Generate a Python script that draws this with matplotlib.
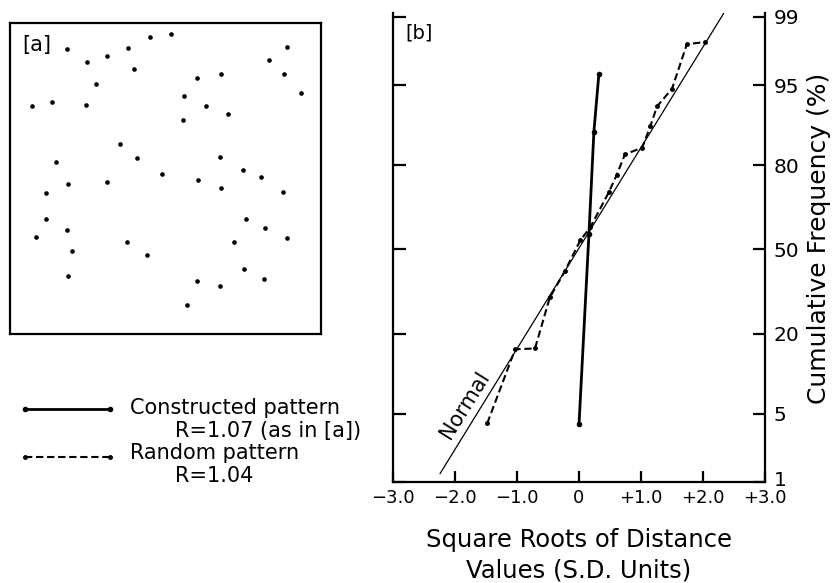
"""Point pattern (a) and nearest-neighbour probability plot (b)."""

from statistics import NormalDist

import matplotlib

matplotlib.use("Agg")
import matplotlib.pyplot as plt
from matplotlib.lines import Line2D
from matplotlib.transforms import ScaledTranslation


# panel (a): point positions inside the square study area (0-100 units)
POINT_X = [18.3, 45.0, 51.8, 37.9, 31.2, 24.8, 39.9, 27.7, 7.1, 13.5,
           24.4, 89.1, 83.3, 88.1, 93.6, 60.1, 67.8, 55.9, 63.0, 70.1,
           55.6, 35.4, 40.8, 14.8, 67.5, 74.9, 80.7, 48.9, 60.5, 67.8,
           18.6, 31.2, 11.6, 87.8, 11.6, 75.9, 18.3, 82.0, 8.4, 37.6,
           72.0, 89.1, 19.9, 44.1, 75.2, 81.7, 18.6, 60.1, 67.5, 56.9]
POINT_Y = [91.6, 95.5, 96.5, 92.0, 89.4, 87.5, 85.2, 80.4, 73.3, 74.6,
           73.6, 92.3, 88.1, 83.6, 77.5, 82.3, 83.6, 76.5, 73.3, 70.7,
           68.8, 61.1, 56.6, 55.3, 56.9, 52.7, 50.5, 51.4, 49.5, 46.9,
           48.2, 48.9, 45.3, 45.7, 37.0, 37.0, 33.4, 34.1, 31.2, 29.6,
           29.6, 30.9, 26.7, 25.4, 20.9, 17.7, 18.6, 17.0, 15.4, 9.3]

# panel (b): square roots of distance (S.D. units) vs cumulative frequency (%)
CONSTRUCTED_X = [0.0, 0.16, 0.24, 0.32]
CONSTRUCTED_PCT = [4.0, 56.0, 88.0, 96.0]

RANDOM_X = [-1.48, -1.03, -0.71, -0.47, -0.23, 0.02, 0.18, 0.48,
            0.61, 0.74, 1.02, 1.15, 1.26, 1.50, 1.74, 2.03]
RANDOM_PCT = [4.1, 15.9, 16.1, 31.6, 41.3, 53.6, 58.7, 71.6,
              77.3, 82.9, 84.6, 89.1, 92.4, 94.6, 98.0, 98.1]

NORMAL_X = [-2.24, 2.38]
NORMAL_PCT = [1.25, 99.2]

X_TICKS = [-3, -2, -1, 0, 1, 2, 3]
X_TICK_LABELS = ["\u22123.0", "\u22122.0", "\u22121.0", "0",
                 "+1.0", "+2.0", "+3.0"]
PCT_TICKS = [1, 5, 20, 50, 80, 95, 99]
PCT_TOP = 99.1

W, H = 837, 583


def fig_xy(x, y):
    """Pixel position (from top left) to figure fraction."""
    return x / W, 1 - y / H


def probit(values):
    dist = NormalDist()
    return [dist.inv_cdf(v / 100.0) for v in values]


def draw_pattern(fig):
    ax = fig.add_axes([10 / W, 1 - 334 / H, 311 / W, 311 / H])
    ax.scatter(POINT_X, POINT_Y, s=11, color="black", linewidths=0)
    ax.set_xlim(0, 100)
    ax.set_ylim(0, 100)
    ax.set_xticks([])
    ax.set_yticks([])
    for spine in ax.spines.values():
        spine.set_linewidth(1.6)
    ax.text(0.04, 0.93, "[a]", transform=ax.transAxes,
            fontsize=15, va="center", ha="left")


def draw_probability(fig):
    ax = fig.add_axes([393 / W, 101 / H, 372 / W, 469 / H])

    ax.plot(NORMAL_X, probit(NORMAL_PCT), color="black", linewidth=0.9)
    ax.plot(CONSTRUCTED_X, probit(CONSTRUCTED_PCT), color="black",
            linewidth=2.0, marker="o", markersize=3)
    ax.plot(RANDOM_X, probit(RANDOM_PCT), color="black", linewidth=1.5,
            linestyle=(0, (3.5, 1.8)), marker="o", markersize=2.5)

    ax.text(-1.84, -1.55, "Normal", rotation=58, fontsize=15,
            ha="center", va="center")

    ax.set_xlim(-3, 3)
    ax.set_ylim(probit([PCT_TICKS[0]])[0], probit([PCT_TOP])[0])

    ax.set_xticks(X_TICKS)
    ax.set_xticklabels(X_TICK_LABELS)
    ax.set_yticks(probit(PCT_TICKS))
    ax.set_yticklabels([str(p) for p in PCT_TICKS])

    ax.tick_params(axis="x", direction="in", length=8, width=1.6,
                   labelsize=13, pad=5)
    ax.tick_params(axis="y", direction="in", length=9, width=1.6,
                   labelsize=14.5, pad=6, left=True, right=True,
                   labelleft=False, labelright=True)

    # the "1" label sits a little above the bottom axis, clear of "+3.0"
    bottom_label = ax.yaxis.get_major_ticks()[0].label2
    bottom_label.set_transform(
        bottom_label.get_transform()
        + ScaledTranslation(0, 4 / 100, fig.dpi_scale_trans)
    )

    ax.spines["top"].set_visible(False)
    for side in ("left", "right", "bottom"):
        ax.spines[side].set_linewidth(1.6)

    fig.text(*fig_xy(405, 33), "[b]", fontsize=14, ha="left",
             va="center")
    fig.text(*fig_xy(579, 555), "Square Roots of Distance\n"
             "Values (S.D. Units)", fontsize=17.5, ha="center",
             va="center", linespacing=1.35)
    fig.text(*fig_xy(819, 238), "Cumulative Frequency (%)", fontsize=18,
             rotation=90, ha="center", va="center")


def draw_key(fig):
    x0, x1 = fig_xy(25, 0)[0], fig_xy(110, 0)[0]

    y = fig_xy(0, 409)[1]
    fig.add_artist(Line2D([x0, x1], [y, y], color="black", linewidth=2.0,
                          transform=fig.transFigure))
    fig.add_artist(Line2D([x0, x1], [y, y], color="black", linestyle="",
                          marker="o", markersize=3,
                          transform=fig.transFigure))

    y = fig_xy(0, 457)[1]
    fig.add_artist(Line2D([x0, x1], [y, y], color="black", linewidth=1.5,
                          linestyle=(0, (3.5, 1.8)),
                          transform=fig.transFigure))
    fig.add_artist(Line2D([x0, x1], [y, y], color="black", linestyle="",
                          marker="o", markersize=2.5,
                          transform=fig.transFigure))

    fig.text(*fig_xy(130, 408), "Constructed pattern", fontsize=15,
             va="center")
    fig.text(*fig_xy(175, 431), "R=1.07 (as in [a])", fontsize=15,
             va="center")
    fig.text(*fig_xy(130, 453), "Random pattern", fontsize=15,
             va="center")
    fig.text(*fig_xy(175, 476), "R=1.04", fontsize=15, va="center")


def main():
    plt.rcParams["font.family"] = ["DejaVu Sans"]
    fig = plt.figure(figsize=(W / 100, H / 100), dpi=100)
    draw_pattern(fig)
    draw_probability(fig)
    draw_key(fig)
    fig.savefig("out.png", dpi=100, facecolor="white")
    plt.close(fig)


if __name__ == "__main__":
    main()
